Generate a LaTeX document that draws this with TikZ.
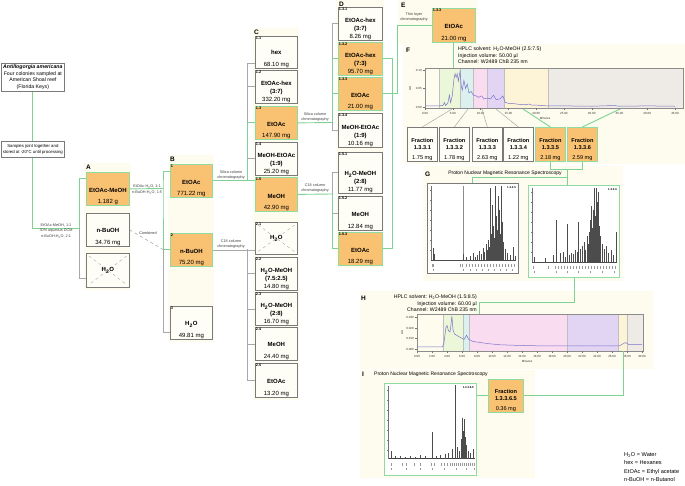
\documentclass[tikz,border=0pt]{standalone}
\usepackage{fontspec}
\setmainfont{Liberation Sans}
\definecolor{panelbg}{HTML}{FDFCEE}
\definecolor{orng}{HTML}{F9C172}
\definecolor{grn}{HTML}{8FDBA2}
\definecolor{grnline}{HTML}{7ED394}
\definecolor{boxgray}{HTML}{7A7A7A}
\definecolor{lgray}{HTML}{A8A8A8}
\definecolor{boxfill}{HTML}{FEFDF6}
\definecolor{tracec}{HTML}{7C74C9}
\definecolor{rgreen}{HTML}{ECF6D8}
\definecolor{rcyan}{HTML}{DCF0F0}
\definecolor{rpink}{HTML}{FADCF0}
\definecolor{rlav}{HTML}{E2D5F4}
\definecolor{ryel}{HTML}{FDF4D8}
\definecolor{rgray}{HTML}{EEEBE6}
\newcommand\fsz[2]{\fontsize{#1}{#2}\selectfont}
\newcommand\HtwoO{H\textsubscript{2}O}
% name, style, x, y, w, h, number, content
\newcommand\mybox[8]{%
  \node[#2,anchor=north west,minimum width=#5pt,minimum height=#6pt] (#1) at (#3,#4) {};
  \node[numlab] (#1n) at ([xshift=0.4pt,yshift=-0.4pt]#1.north west) {#7};
  \node[boxtxt] (#1t) at ([yshift=1.2pt]#1.south) {#8};
}
% name x y w h number text
\newcommand\xbox[7]{%
  \node[wbox,anchor=north west,minimum width=#4pt,minimum height=#5pt] (#1) at (#2,#3) {};
  \draw[xline] ([shift={(3pt,-3pt)}]#1.north west) -- ([shift={(-3pt,3pt)}]#1.south east);
  \draw[xline] ([shift={(-3pt,-3pt)}]#1.north east) -- ([shift={(3pt,3pt)}]#1.south west);
  \node[numlab] (#1n) at ([xshift=0.4pt,yshift=-0.4pt]#1.north west) {#6};
  \node[font=\bfseries\fsz{6}{7},inner sep=0.5pt] (#1t) at (#1.center) {#7};
}
\begin{document}
\begin{tikzpicture}[x=1pt,y=-1pt,
  obox/.style={draw=grn,fill=orng,line width=0.8pt,inner sep=0pt},
  wbox/.style={draw=boxgray,fill=boxfill,line width=0.7pt,inner sep=0pt},
  tbox/.style={draw=boxgray,fill=white,line width=0.7pt,align=center,inner sep=1pt},
  numlab/.style={anchor=north west,font=\bfseries\fsz{3.8}{4},inner sep=0.3pt},
  boxtxt/.style={anchor=south,align=center,inner sep=0pt,font=\fsz{6}{7.6}},
  frtxt/.style={anchor=south,align=center,inner sep=0pt,font=\fsz{5.6}{7}},
  xline/.style={draw=lgray,dashed,line width=0.4pt},
  gline/.style={draw=grnline,line width=0.9pt},
  grayline/.style={draw=lgray,line width=0.7pt},
  thinline/.style={draw=lgray,line width=0.5pt},
  dashline/.style={draw=lgray,dashed,line width=0.6pt},
  conlab/.style={font=\fsz{3.8}{5},align=center,inner sep=0.3pt,text=black!75},
  plab/.style={font=\bfseries\fsz{6.5}{7},inner sep=0pt,anchor=west},
  ticklab/.style={font=\fsz{3}{3.5},inner sep=0pt,text=black!80},
  axisc/.style={draw=black!55,line width=0.3pt},
  peak/.style={draw=black!70,line width=0.2pt},
  tickmark/.style={draw=black!40,line width=0.2pt},
  specg/.style={draw=boxgray,fill=white,line width=0.5pt,inner sep=0pt},
  specgr/.style={draw=grn,fill=white,line width=0.9pt,inner sep=0pt}]
\useasboundingbox (0,0) rectangle (685,486);

% ---------- panels ----------
\fill[panelbg] (84,163) rectangle (131,290);
\fill[panelbg] (168,155) rectangle (214,342);
\fill[panelbg] (253,28) rectangle (299,400);
\fill[panelbg] (336,0) rectangle (384,268);
\fill[panelbg] (398,0) rectangle (477,44);
\fill[panelbg] (403,44) rectangle (685,164);
\fill[panelbg] (423,166) rectangle (623,281);
\fill[panelbg] (360,291) rectangle (653,369);
\fill[panelbg] (360,370) rectangle (535,478);

\node[plab] (labA) at (86,167) {A};
\node[plab] (labB) at (170,159) {B};
\node[plab] (labC) at (254,32) {C};
\node[plab] (labD) at (339,4) {D};
\node[plab] (labE) at (401,5) {E};
\node[plab] (labF) at (406,50) {F};
\node[plab] (labG) at (425,174) {G};
\node[plab] (labH) at (361,298) {H};
\node[plab] (labI) at (362,374) {I};

% ---------- source boxes ----------
\node[tbox,anchor=north west,minimum width=63pt,minimum height=28pt,font=\fsz{5.2}{6.5}] (n0) at (1,63)
  {\textbf{\textit{Antillogorgia americana}}\\Four colonies sampled at\\American Shoal reef\\(Florida Keys)};
\node[tbox,anchor=north west,minimum width=63pt,minimum height=16pt,font=\fsz{4.3}{5.3}] (n1) at (1,141)
  {Samples joint together and\\stored at -20°C until processing};

% ---------- A ----------
\mybox{a1}{obox}{86}{172}{43}{33}{}{\textbf{EtOAc-MeOH}\\[3.5pt]1.182 g}
\mybox{a2}{wbox}{86}{213}{43}{33}{}{\textbf{n-BuOH}\\[3.5pt]34.76 mg}
\xbox{a3}{86}{253}{43}{34}{}{\HtwoO}

% ---------- B ----------
\mybox{b1}{obox}{170}{164}{42}{33}{1}{\textbf{EtOAc}\\[3.5pt]771.22 mg}
\mybox{b2}{obox}{170}{233}{42}{33}{2}{\textbf{n-BuOH}\\[3.5pt]75.20 mg}
\mybox{b3}{wbox}{170}{306}{42}{33}{3}{\textbf{\HtwoO}\\[3.5pt]49.81 mg}

% ---------- C ----------
\mybox{c11}{wbox}{255}{36}{42}{32}{1.1}{\textbf{hex}\\[3.5pt]68.10 mg}
\mybox{c12}{wbox}{255}{70}{42}{33}{1.2}{\textbf{EtOAc-hex}\\\textbf{(3:7)}\\332.20 mg}
\mybox{c13}{obox}{255}{106}{42}{33}{1.3}{\textbf{EtOAc}\\[3.5pt]147.90 mg}
\mybox{c14}{wbox}{255}{142}{42}{33}{1.4}{\textbf{MeOH-EtOAc}\\\textbf{(1:9)}\\25.20 mg}
\mybox{c15}{obox}{255}{177}{42}{34}{1.5}{\textbf{MeOH}\\[3.5pt]42.90 mg}
\xbox{c21}{255}{222}{42}{32}{2.1}{\HtwoO}
\mybox{c22}{wbox}{255}{257}{42}{33}{2.2}{\textbf{\HtwoO-MeOH}\\\textbf{(7.5:2.5)}\\14.80 mg}
\mybox{c23}{wbox}{255}{292}{42}{33}{2.3}{\textbf{\HtwoO-MeOH}\\\textbf{(2:8)}\\16.70 mg}
\mybox{c24}{wbox}{255}{327}{42}{33}{2.4}{\textbf{MeOH}\\[3.5pt]24.40 mg}
\mybox{c25}{wbox}{255}{363}{42}{34}{2.5}{\textbf{EtOAc}\\[3.5pt]13.20 mg}

% ---------- D ----------
\mybox{d131}{wbox}{338}{7}{44}{33}{1.3.1}{\textbf{EtOAc-hex}\\\textbf{(3:7)}\\8.26 mg}
\mybox{d132}{obox}{338}{42}{44}{33}{1.3.2}{\textbf{EtOAc-hex}\\\textbf{(7:3)}\\95.70 mg}
\mybox{d133}{obox}{338}{77}{44}{33}{1.3.3}{\textbf{EtOAc}\\[3.5pt]21.00 mg}
\mybox{d134}{wbox}{338}{113}{44}{34}{1.3.4}{\textbf{MeOH-EtOAc}\\\textbf{(1:9)}\\10.16 mg}
\mybox{d151}{wbox}{338}{152}{44}{41}{1.5.1}{\textbf{\HtwoO-MeOH}\\\textbf{(2:8)}\\11.77 mg}
\mybox{d152}{wbox}{338}{196}{44}{34}{1.5.2}{\textbf{MeOH}\\[3.5pt]12.84 mg}
\mybox{d153}{obox}{338}{232}{44}{33}{1.5.3}{\textbf{EtOAc}\\[3.5pt]18.29 mg}

% ---------- E ----------
\mybox{e1}{obox}{432}{8}{43}{34}{1.3.3}{\textbf{EtOAc}\\[4.5pt]21.00 mg}

% ---------- F chart ----------
\fill[rgreen] (439,68) rectangle (460,108);
\fill[rcyan] (460,68) rectangle (473,108);
\fill[rpink] (473,68) rectangle (487,108);
\fill[rlav] (487,68) rectangle (504,108);
\fill[ryel] (504,68) rectangle (548,108);
\fill[rgray] (548,68) rectangle (683,108);
\foreach \xa in {439,460,473,487,504,548} \draw[draw=black!25,line width=0.3pt] (\xa,68) -- (\xa,108);
\node[draw=black!45,line width=0.4pt,anchor=north west,minimum width=258pt,minimum height=40pt,inner sep=0pt] (fplot) at (425,68) {};
\begin{scope}[shift={(425,107)},x=5.56pt,y=370pt]
\draw[tracec,line width=0.5pt] plot coordinates {(0,0.003) (2.5,0.003) (3.2,0.004) (3.5,0.012) (3.7,0.004) (4.1,0.01) (4.4,0.032) (4.6,0.012) (4.9,0.03) (5.2,0.075) (5.4,0.09) (5.6,0.08) (5.8,0.09) (6.0,0.07) (6.3,0.097) (6.5,0.06) (6.7,0.045) (7.0,0.072) (7.3,0.05) (7.6,0.062) (7.9,0.038) (8.3,0.042) (8.7,0.032) (9.2,0.03) (9.6,0.026) (10.2,0.03) (10.6,0.022) (11.2,0.024) (11.8,0.022) (12.3,0.032) (12.8,0.02) (13.5,0.022) (14.0,0.03) (14.4,0.013) (15,0.01) (16,0.009) (17,0.007) (18,0.006) (18.7,0.008) (19.2,0.005) (20,0.005) (21,0.004) (22,0.003) (25,0.003) (30,0.002) (34,0.004) (35,0.002) (40,0.003) (45,0.002)};
\end{scope}
\foreach \k/\l in {0/0.00,1/5.00,2/10.00,3/15.00,4/20.00,5/25.00,6/30.00,7/35.00,8/40.00,9/45.00}{
  \draw[axisc] ({425+27.78*\k},108) -- ({425+27.78*\k},110);
  \node[ticklab] at ({425+27.78*\k},113) {\l};}
\foreach \yy/\l in {70/0.10,88/0.05,107/0.00}{
  \draw[axisc] (423,\yy) -- (425,\yy);
  \node[ticklab,anchor=east] at (422,\yy) {\l};}
\node[ticklab,rotate=90] (fau) at (410,88) {AU};
\node[ticklab] (fmin) at (545,118) {Minutes};
\node[anchor=north west,align=left,font=\fsz{5.2}{6.5},inner sep=0pt] (ftxt) at (458,47)
  {HPLC solvent: \HtwoO-MeOH (2.5:7.5)\\Injection volume: 50.00 µl\\Channel: W2489 ChB 235 nm};

% fractions
\newcommand\frbox[5]{%
  \node[#2,anchor=north west,minimum width=30pt,minimum height=34pt] (#1) at (#3,127) {};
  \node[frtxt] (#1t) at ([yshift=1.2pt]#1.south) {\textbf{Fraction}\\\textbf{#4}\\[3pt]#5};}
\frbox{f1}{wbox}{407}{1.3.3.1}{1.75 mg}
\frbox{f2}{wbox}{439}{1.3.3.2}{1.78 mg}
\frbox{f3}{wbox}{472}{1.3.3.3}{2.63 mg}
\frbox{f4}{wbox}{503}{1.3.3.4}{1.22 mg}
\frbox{f5}{obox}{535}{1.3.3.5}{2.18 mg}
\frbox{f6}{obox}{567}{1.3.3.6}{2.59 mg}
\coordinate (p1) at (452,109);
\coordinate (p2) at (468,109);
\coordinate (p3) at (482,109);
\coordinate (p4) at (496,109);
\coordinate (p5) at (523,109);
\coordinate (p6) at (620,109);
\draw[thinline] (p1) -- (f1.north);
\draw[thinline] (p2) -- (f2.north);
\draw[thinline] (p3) -- (f3.north);
\draw[thinline] (p4) -- (f4.north);
\draw[gline] (p5) -- (f5.north);
\draw[gline] (p6) -- (f6.north);

% ---------- G ----------
\node[font=\fsz{5}{6},inner sep=0pt] (gtitle) at (505,173) {Proton Nuclear Magnetic Resonance Spectroscopy};
\node[specg,anchor=north west,minimum width=91pt,minimum height=90pt] (g1) at (427,183) {};
\node[specgr,anchor=north west,minimum width=91pt,minimum height=92pt] (g2) at (528,185) {};
% spectrum 1
\draw[axisc] (431,186) -- (431,260);
\foreach \yy in {190,200,...,250} \draw[axisc] (430,\yy) -- (431,\yy);
\draw[draw=black!45,line width=0.3pt] (463,186) -- (463,260);
\draw[peak] (431,260) -- (516,260);
\foreach \px/\ph in {433/12,434/6,463/6,466/3,470/4,473/7,475/3,477/5,479/9,481/6,483/12,484/8,486/16,487/10,488/20,489/13,490/72,491/26,492/55,493/34,494/22,495/74,496/44,497/30,498/64,499/50,500/26,501/74,502/38,503/18,505/11,507/7,510/5,513/13,515/4}
  \draw[peak] (\px,260) -- (\px,{260-\ph});
\foreach \px in {432,433,460,462,466,469,472,475,478,481,484,487,490,493,496,499,502,505,508,511,514}
  \draw[tickmark] (\px,264) -- (\px,267);
\foreach \px in {433,463,470,476,482,488,494,500,506,512}
  \draw[tickmark] (\px,269) -- (\px,271);
\node[font=\bfseries\fsz{2.8}{3},inner sep=0pt,anchor=north east] (g1l) at (516,186) {1.3.3.5};
% spectrum 2
\draw[axisc] (532,188) -- (532,262);
\foreach \yy in {192,202,...,252} \draw[axisc] (531,\yy) -- (532,\yy);
\draw[peak] (532,262) -- (617,262);
\foreach \px/\ph in {534/5,545/4,553/7,556/42,560/9,563/10,565/5,567/38,569/7,571/9,573/8,575/12,577/10,578/40,580/13,582/16,584/20,585/12,587/26,588/18,589/30,590/42,591/56,592/34,593/52,594/74,595/46,596/74,597/60,598/70,599/36,600/26,602/18,604/13,606/16,608/9,611/12,613/7,616/30}
  \draw[peak] (\px,262) -- (\px,{262-\ph});
\foreach \px in {533,548,555,558,561,564,567,570,573,576,579,582,585,588,591,594,597,600,603,606,609,612,615}
  \draw[tickmark] (\px,266) -- (\px,269);
\foreach \px in {534,556,567,578,590,602,614}
  \draw[tickmark] (\px,271) -- (\px,273);
\node[font=\bfseries\fsz{2.8}{3},inner sep=0pt,anchor=north east] (g2l) at (617,188) {1.3.3.6};

% ---------- H chart ----------
\fill[rgreen] (443,314) rectangle (463,351);
\fill[rcyan] (463,314) rectangle (469,351);
\fill[rpink] (469,314) rectangle (567,351);
\fill[rlav] (567,314) rectangle (618,351);
\fill[ryel] (618,314) rectangle (627,351);
\fill[rgray] (627,314) rectangle (643,351);
\foreach \xa in {443,463,469,567,618,627} \draw[draw=black!25,line width=0.3pt] (\xa,314) -- (\xa,351);
\node[draw=black!45,line width=0.4pt,anchor=north west,minimum width=226pt,minimum height=37pt,inner sep=0pt] (hplot) at (417,314) {};
\begin{scope}[shift={(417,349)},x=7.5pt,y=1067pt]
\draw[tracec,line width=0.5pt] plot coordinates {(0,0.002) (3.4,0.002) (3.6,0.006) (3.85,0.02) (4.0,0.022) (4.2,0.017) (4.4,0.016) (4.55,0.024) (4.65,0.031) (4.8,0.018) (5.0,0.014) (5.5,0.012) (6.0,0.01) (6.3,0.009) (6.6,0.013) (6.9,0.009) (7.5,0.007) (8.5,0.006) (9.5,0.005) (11,0.004) (13,0.0035) (16,0.003) (20,0.003) (27,0.003) (27.5,0.005) (27.8,0.006) (28.3,0.004) (30,0.004)};
\end{scope}
\foreach \k/\l in {0/0.00,1/2.00,2/4.00,3/6.00,4/8.00,5/10.00,6/12.00,7/14.00,8/16.00,9/18.00,10/20.00,11/22.00,12/24.00,13/26.00,14/28.00,15/30.00}{
  \draw[axisc] ({417+15*\k},351) -- ({417+15*\k},353);
  \node[ticklab] at ({417+15*\k},356) {\l};}
\foreach \yy/\l in {317/0.030,328/0.020,338/0.010,349/0.000}{
  \draw[axisc] (415,\yy) -- (417,\yy);
  \node[ticklab,anchor=east] at (414,\yy) {\l};}
\node[ticklab,rotate=90] (hau) at (402,332) {AU};
\node[ticklab] (hmin) at (527,361) {Minutes};
\node[anchor=north east,align=right,font=\fsz{5.2}{6.5},inner sep=0pt] (htxt) at (477,295)
  {HPLC solvent: \HtwoO-MeOH (1.5:8.5)\\Injection volume: 60.00 µl\\Channel: W2489 ChB 235 nm};

% ---------- I ----------
\node[font=\fsz{5}{6},inner sep=0pt,anchor=west] (ititle) at (374,374.5) {Proton Nuclear Magnetic Resonance Spectroscopy};
\node[specgr,anchor=north west,minimum width=92pt,minimum height=92pt] (ispec) at (384,383) {};
\draw[axisc] (388,386) -- (388,459);
\foreach \yy in {390,400,...,450} \draw[axisc] (387,\yy) -- (388,\yy);
\draw[draw=black!75,line width=1.1pt] (389,458.5) -- (475,458.5);
\foreach \px/\ph in {391/8,395/3,400/3,405/2,410/3,415/2,420/4,425/3,432/27,436/3,440/4,445/5,448/6,452/10,455/74,457/12,459/8,461/20,462/41,463/28,464/40,465/22,466/14,468/8,470/6,473/10}
  \draw[peak] (\px,459) -- (\px,{459-\ph});
\foreach \px in {391,402,406,414,420,431,434,441,444,447,450,452,454,456,458,460,462,464,466,468,470,472,474}
  \draw[tickmark] (\px,463) -- (\px,466);
\foreach \px in {391,406,420,432,444,456,466,474}
  \draw[tickmark] (\px,468) -- (\px,470);
\node[font=\bfseries\fsz{2.8}{3},inner sep=0pt,anchor=north east] (il) at (474,386) {1.3.3.6.5};
\node[obox,anchor=north west,minimum width=35pt,minimum height=33pt] (fr) at (488,379) {};
\node[frtxt] (frt) at ([yshift=1.2pt]fr.south) {\textbf{Fraction}\\\textbf{1.3.3.6.5}\\[3pt]0.36 mg};

% ---------- connectors ----------
\draw[gline] (n0.south) -- (n1.north);
\coordinate (jA) at (79,228);
\draw[gline] (n1.south) |- (jA) |- ([yshift=-6pt]a1.north west);
\draw[grayline] (jA) |- ([yshift=9pt]a3.south west);
\node[conlab,font=\fsz{3.8}{5.5}] (lA) at (56,231) {EtOAc-MeOH, 1:1\\30\% aqueous DCM\\n-BuOH:\HtwoO, 2:1};

\coordinate (jB) at (163,188.5);
\coordinate (jB2) at (163,249.5);
\draw[gline] (a1.east) -- (jB);
\draw[gline] ([yshift=-7pt]b1.north west) -| (jB) |- (b2.west);
\draw[grayline] (jB2) |- ([yshift=7pt]b3.south west);
\node[conlab,font=\fsz{3.8}{6.5}] (lAB) at (147,189.5) {EtOAc-\HtwoO, 1:1\\n-BuOH-\HtwoO, 1:5};
\draw[dashline] (a2.east) -- (jB2);
\node[conlab,fill=white] (lcomb) at (148,233) {Combined};

\coordinate (jC1) at (247,180.5);
\draw[gline] (b1.east) -- (b1.east -| c15.west);
\draw[gline] (jC1) |- (c13.west);
\draw[grayline] (jC1 |- c13.west) |- (c12.west);
\draw[grayline] (jC1 |- c12.west) |- ([yshift=5pt]c11.south west);
\draw[grayline] (jC1 |- c14.west) -- (c14.west);
\node[conlab,anchor=south] (lBC) at (231,179.5) {Silica column\\chromatography};

\coordinate (jC2) at (247,249.5);
\draw[grayline] (b2.east) -- (b2.east -| c21.west);
\draw[grayline] (jC2) |- (c25.west);
\foreach \nn in {c22,c23,c24} \draw[grayline] (jC2 |- \nn.west) -- (\nn.west);
\node[conlab,anchor=south] (lBC2) at (231,248.5) {C18 column\\chromatography};

\coordinate (jD1) at (332,122.5);
\draw[gline] (c13.east) -- (jD1);
\draw[gline] (jD1) |- (d132.west);
\draw[gline] (jD1 |- d133.west) -- (d133.west);
\draw[grayline] (jD1 |- d132.west) |- (d131.west);
\draw[grayline] (jD1) |- (d134.west);
\node[conlab,anchor=south] (lCD1) at (315,121.5) {Silica column\\chromatography};

\coordinate (jD2) at (332,194);
\draw[gline] (c15.east) -- (jD2);
\draw[gline] (jD2) |- (d153.west);
\draw[grayline] (jD2) |- (d151.west);
\draw[grayline] (jD2 |- d152.west) -- (d152.west);
\node[conlab,anchor=south] (lCD2) at (315,193) {C18 column\\chromatography};

\draw[gline] (d132.east) -- ++(10,0) |- (d153.east);
\draw[gline] (d133.east) -- ++(15,0) |- (e1.west);
\node[conlab,anchor=south] (lDE) at (414,22) {Thin layer\\chromatography};
\draw[gline] (e1.south) -- (e1.south |- fplot.north);

\coordinate (jG) at (567,169);
\coordinate (jG2) at (567,177);
\draw[gline] (f5.south) |- (jG);
\draw[gline] (f6.south) |- (jG);
\draw[gline] (jG) -- (jG |- g2.north);
\draw[gline] (jG2) -| (g1.north);

\coordinate (jH) at (479,302);
\draw[gline] (g2.south) |- (jH) -- (jH |- hplot.north);
\coordinate (hpk) at (623,351);
\draw[gline] (hpk) |- (fr.east);
\draw[gline] (fr.west) -- (fr.west -| ispec.east);

% ---------- legend ----------
\node[anchor=north west,align=left,font=\fsz{5.6}{8.2},inner sep=0pt] (legend) at (624,452.5)
  {\HtwoO{} = Water\\hex = Hexanes\\EtOAc = Ethyl acetate\\n-BuOH = n-Butanol};
\end{tikzpicture}
\end{document}
